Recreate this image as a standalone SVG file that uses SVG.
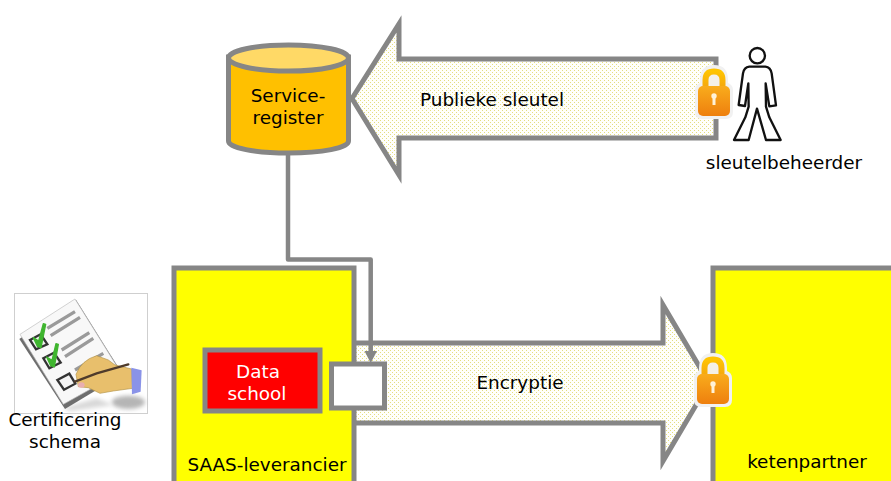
<svg xmlns="http://www.w3.org/2000/svg" width="891" height="481" viewBox="0 0 891 481">
<style>
text{font-family:"DejaVu Sans","Liberation Sans",sans-serif;font-size:18.4px;fill:#000;text-anchor:middle}
.g{stroke:#868686;stroke-width:5;stroke-linejoin:miter}
.box{fill:#ffff00}
.arrow{fill:url(#dots)}
.line{fill:none;stroke:#868686;stroke-width:4.5;stroke-linejoin:round}
</style>
<defs>
<pattern id="dots" width="4" height="4" patternUnits="userSpaceOnUse">
<rect width="4" height="4" fill="#fffffb"/>
<rect x="0" y="0" width="1" height="1" fill="#e4dd80"/>
<rect x="2" y="2" width="1" height="1" fill="#e4dd80"/>
</pattern>
<filter id="soft" x="-30%" y="-30%" width="160%" height="160%"><feGaussianBlur stdDeviation="6"/></filter>
<linearGradient id="lockB" x1="0" y1="0" x2="0" y2="1"><stop offset="0" stop-color="#f9ac1c"/><stop offset="1" stop-color="#ee7f0e"/></linearGradient>
<linearGradient id="lockT" x1="0" y1="0" x2="0" y2="1"><stop offset="0" stop-color="#ffc400"/><stop offset="1" stop-color="#f5a80f"/></linearGradient>
<g id="lock">
<path d="M-19 -3 Q-19 -8 -14 -10 L-14 -13 Q-14 -28 0 -28 Q14 -28 14 -13 L14 -10 Q19 -8 19 -3 L19 19 Q19 26 12 26 L-12 26 Q-19 26 -19 19Z" fill="#f1f1f1"/>
<path d="M-8.500 -6 L-8.500 -13 Q-8.500 -21.500 0 -21.500 Q8.500 -21.500 8.500 -13 L8.500 -6" fill="none" stroke="url(#lockT)" stroke-width="6"/>
<path d="M-4.500 -6V-13Q-4.500 -18 0 -18Q4.500 -18 4.500 -13V-6Z" fill="#f4f0e8"/>
<rect x="-16" y="-7" width="32" height="30" rx="5" fill="url(#lockB)"/>
<circle cy="3" r="2.700" fill="#fff2d8"/><rect x="-1.500" y="3" width="3" height="9" fill="#fff2d8"/>
</g>
</defs>

<g id="connectors">
<path id="arrow-publieke" class="g arrow" d="M716 59H399V24L352 98.500L399 175V138H716Z"/>
<path id="arrow-encryptie" class="g arrow" d="M352 343H663V305L709 383L663 461V423H352Z"/>
<path id="link" class="line" d="M288 150V259.500H370.700V352" />
<path d="M364.500 351H377L370.700 363Z" fill="#868686"/>
</g>

<g id="service-register">
<path d="M228.500 57V141C228.500 148 255 153 288.500 153C322 153 348.500 148 348.500 141V57Z" fill="#ffc000" class="g"/>
<ellipse cx="288.500" cy="58" rx="60" ry="13" fill="#ffd966" class="g"/>
<text x="288" y="102">Service-</text>
<text x="288" y="124">register</text>
</g>

<g id="saas-leverancier">
<rect class="g box" x="174" y="268" width="180" height="230"/>
<text x="267" y="471">SAAS-leverancier</text>
</g>
<g id="ketenpartner">
<rect class="g box" x="713" y="268" width="200" height="230"/>
<text x="807" y="468">ketenpartner</text>
</g>
<g id="data-school">
<rect x="205" y="350" width="115" height="61" fill="#ff0000" class="g"/>
<text x="258" y="378" style="fill:#fff">Data</text>
<text x="257" y="400" style="fill:#fff">school</text>
</g>
<g id="encrypt-box">
<rect x="331.500" y="364" width="53" height="44" fill="#fff" class="g"/>
</g>

<g id="lock-top"><use href="#lock" x="714" y="93"/></g>
<g id="lock-bottom"><use href="#lock" x="713" y="381"/></g>

<g id="sleutelbeheerder">
<g transform="translate(680 30) scale(.3333)" fill="#fff" stroke="#111" stroke-width="7" stroke-linejoin="round">
<circle cx="232" cy="77" r="23"/>
<path d="M208 110H256Q272 112 275 130L288 226L268 229L257 160L258 230L268 262L302 330H258L231 236L206 330H162L196 262L206 230L205 160L195 228L176 225L189 130Q192 112 208 110Z"/>
</g>
<text x="784" y="169">sleutelbeheerder</text>
</g>

<g id="certificering-schema">
<rect x="14.500" y="293.500" width="133" height="120" fill="#fff" stroke="#cfcfcf"/>
<g transform="translate(0 285) scale(.3333)">
<ellipse cx="385" cy="352" rx="50" ry="20" fill="#b5b5b5" filter="url(#soft)"/>
<path d="M190 368L290 340L340 360L210 378Z" fill="#d8d8d8" filter="url(#soft)"/>
<path d="M58 162L228 44L368 268L195 372Z" fill="#6e6e6e"/>
<path d="M60 148L225 42L362 262L190 358Z" fill="#f8f8f8" stroke="#bdbdbd" stroke-width="2"/>
<g stroke="#9a9a9a" stroke-width="10" fill="none">
<path d="M142 130L225 80M152 152L240 97M185 195L268 143M195 215L280 160M225 255L310 205"/>
</g>
<g fill="#f4f4f4" stroke="#333" stroke-width="7">
<path d="M90 165L122 148L142 178L108 193Z"/>
<path d="M130 220L162 203L182 233L148 250Z"/>
<path d="M172 285L208 266L226 296L192 314Z"/>
</g>
<path d="M100 158L116 168L130 116L137 118L123 188L112 184Z" fill="#3fb52f" stroke="#3fb52f" stroke-width="4" stroke-linejoin="round"/>
<path d="M140 216L156 226L168 176L175 178L163 246L152 242Z" fill="#3fb52f" stroke="#3fb52f" stroke-width="4" stroke-linejoin="round"/>
<path d="M228 268Q245 225 290 212L325 225L345 240L395 252L398 310L340 318L300 325L265 308L235 305Z" fill="#e8bf6c" stroke="#b49449" stroke-width="2"/>
<path d="M394 248L425 256L422 320L396 328Z" fill="#8a93e8"/>
<path d="M225 290L290 265L385 238" fill="none" stroke="#4f3b2b" stroke-width="7" stroke-linecap="round"/>
<ellipse cx="244" cy="300" rx="10" ry="8" fill="#e8aeb0"/>
</g>
<text x="65" y="426">Certificering</text>
<text x="65" y="448">schema</text>
</g>

<text x="492" y="106">Publieke sleutel</text>
<text x="520" y="389">Encryptie</text>
</svg>
